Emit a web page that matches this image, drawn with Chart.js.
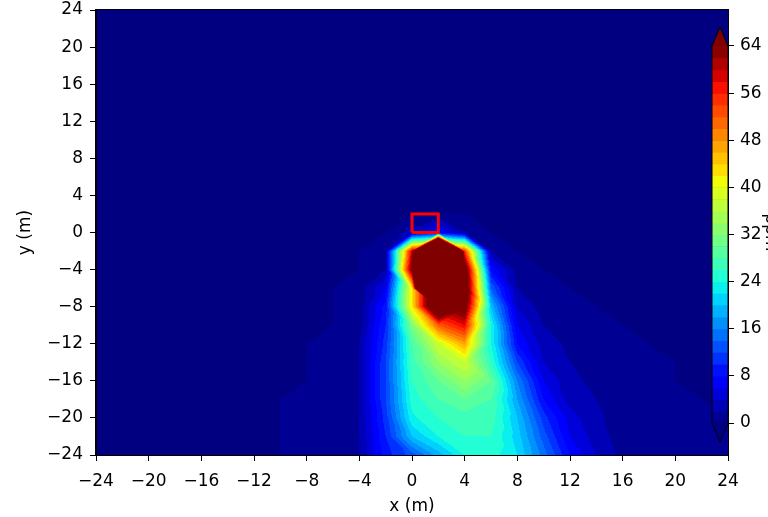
<!DOCTYPE html>
<html lang="fr">
<head>
    <meta charset="UTF-8">
    <title>Panache de concentration</title>
    <script src="https://cdn.jsdelivr.net/npm/chart.js@4.4.1/dist/chart.umd.min.js"></script>
</head>
<body style="margin: 0; background: #ffffff;">

<canvas id="plumeChart" width="768" height="517"></canvas>

<script>
    // Noeuds de la grille (m)
    const xNodes = [-12, -10, -8, -6, -4, -2, 0, 2, 4, 6, 8, 10, 12, 14, 16, 18, 20, 22, 24];
    const yNodes = [2, 0, -2, -4, -6, -8, -10, -12, -14, -16, -18, -20, -22, -24];

    const concRows = [
        [0, 0, 0, 0, 0,  0,  0,   0,  0,  0,  0,  0,   0,   0,   0, 0, 0, 0, 0],
        [0, 0, 0, 0, 0,  0,  3,   8,  2,  0,  0,  0,   0,   0,   0, 0, 0, 0, 0],
        [0, 0, 0, 0, 0,  2, 60, 195, 55,  2,  0,  0,   0,   0,   0, 0, 0, 0, 0],
        [0, 0, 0, 0, 0,  2, 66, 250, 70,  8,  1,  0,   0,   0,   0, 0, 0, 0, 0],
        [0, 0, 0, 0, 1,  6, 42, 200, 72, 14,  2,  1,   0,   0,   0, 0, 0, 0, 0],
        [0, 0, 0, 0, 1,  9, 42,  80, 68, 20,  4,  1,   1,   0,   0, 0, 0, 0, 0],
        [0, 0, 0, 0, 1, 10, 32,  52, 58, 24,  6,  2,   1,   1,   0, 0, 0, 0, 0],
        [0, 0, 0, 1, 2, 11, 28,  38, 47, 24,  8,  3, 1.5,   1,   1, 0, 0, 0, 0],
        [0, 0, 0, 1, 2, 12, 27,  34, 38, 26, 12,  4,   2,   1,   1, 1, 0, 0, 0],
        [0, 0, 0, 1, 2, 12, 26,  30, 34, 30, 16,  6, 2.5, 1.5,   1, 1, 0, 0, 0],
        [0, 0, 1, 1, 2, 12, 25,  28, 30, 28, 18,  8,   3,   2,   1, 1, 1, 0, 0],
        [0, 0, 1, 1, 2, 11, 23.5, 26, 27, 27, 20, 11,  5, 2.5,   1, 1, 1, 1, 0],
        [0, 0, 1, 1, 2, 10, 20,  24, 26, 26, 21, 13,   6,   3,   1, 1, 1, 1, 1],
        [0, 0, 1, 1, 2,  9, 13,  19, 24, 25, 22, 15,   8,   4, 1.5, 1, 1, 1, 1]
    ];

    // Niveaux des contours et graduations
    const levels = [0, 2, 4, 6, 8, 10, 12, 14, 16, 18, 20, 22, 24, 26, 28, 30, 32,
                    34, 36, 38, 40, 42, 44, 46, 48, 50, 52, 54, 56, 58, 60, 62, 64];
    const xTicks = [-24, -20, -16, -12, -8, -4, 0, 4, 8, 12, 16, 20, 24];
    const yTicks = [-24, -20, -16, -12, -8, -4, 0, 4, 8, 12, 16, 20, 24];
    const cbTicks = [0, 8, 16, 24, 32, 40, 48, 56, 64];

    // Position de la source (rectangle rouge)
    const sourceX = [0, 2, 2, 0, 0];
    const sourceY = [0, 0, 2, 2, 0];

    // Palette "jet"
    const jetR = [[0, 0], [0.35, 0], [0.66, 1], [0.89, 1], [1, 0.5]];
    const jetG = [[0, 0], [0.125, 0], [0.375, 1], [0.64, 1], [0.91, 0], [1, 0]];
    const jetB = [[0, 0.5], [0.11, 1], [0.34, 1], [0.65, 0], [1, 0]];

    function segment(pts, t) {
        for (let i = 1; i < pts.length; i++) {
            if (t <= pts[i][0]) {
                const f = (t - pts[i - 1][0]) / (pts[i][0] - pts[i - 1][0]);
                return pts[i - 1][1] + f * (pts[i][1] - pts[i - 1][1]);
            }
        }
        return pts[pts.length - 1][1];
    }

    function jet(t) {
        const idx = Math.min(255, Math.max(0, Math.floor(t * 256)));
        const u = idx / 255;
        return [segment(jetR, u), segment(jetG, u), segment(jetB, u)].map(c => Math.round(c * 255));
    }

    const vmin = levels[0];
    const vmax = levels[levels.length - 1];
    const bandColors = [];
    for (let k = 0; k < levels.length - 1; k++) {
        bandColors.push(jet(((levels[k] + levels[k + 1]) / 2 - vmin) / (vmax - vmin)));
    }
    const underColor = jet(0);
    const overColor = jet(1);

    function colorFor(v) {
        if (v <= vmin) return underColor;
        if (v > vmax) return overColor;
        for (let k = 1; k < levels.length; k++) {
            if (v <= levels[k]) return bandColors[k - 1];
        }
        return overColor;
    }

    // Valeur en un point : interpolation lineaire sur les triangles de chaque maille
    function valueAt(x, y) {
        if (x < xNodes[0] || x > xNodes[xNodes.length - 1]) return 0;
        if (y > yNodes[0] || y < yNodes[yNodes.length - 1]) return 0;
        let i = 0;
        while (i < xNodes.length - 2 && x > xNodes[i + 1]) i++;
        let j = 0;
        while (j < yNodes.length - 2 && y < yNodes[j + 1]) j++;
        const u = (x - xNodes[i]) / (xNodes[i + 1] - xNodes[i]);
        const w = (yNodes[j] - y) / (yNodes[j] - yNodes[j + 1]);
        const a = concRows[j][i], b = concRows[j][i + 1];
        const c = concRows[j + 1][i], d = concRows[j + 1][i + 1];
        if (Math.abs(a - d) <= Math.abs(b - c)) {
            if (u >= w) return a + (b - a) * u + (d - b) * w;
            return a + (c - a) * w + (d - c) * u;
        }
        if (u + w <= 1) return a + (b - a) * u + (c - a) * w;
        return d + (c - d) * (1 - u) + (b - d) * (1 - w);
    }

    const fmt = v => (v < 0 ? '\u2212' + (-v) : String(v));

    const contourPlugin = {
        id: 'contour',
        beforeDraw(chart) {
            const ctx = chart.ctx;
            const a = chart.chartArea;
            const sx = chart.scales.x, sy = chart.scales.y, cb = chart.scales.cb;
            const w = Math.round(a.right - a.left), h = Math.round(a.bottom - a.top);

            // Carte des concentrations
            const img = ctx.createImageData(w, h);
            const xs = [], ys = [];
            for (let i = 0; i < w; i++) xs.push(sx.getValueForPixel(a.left + i + 0.5));
            for (let j = 0; j < h; j++) ys.push(sy.getValueForPixel(a.top + j + 0.5));
            for (let j = 0; j < h; j++) {
                for (let i = 0; i < w; i++) {
                    const col = colorFor(valueAt(xs[i], ys[j]));
                    const p = (j * w + i) * 4;
                    img.data[p] = col[0];
                    img.data[p + 1] = col[1];
                    img.data[p + 2] = col[2];
                    img.data[p + 3] = 255;
                }
            }
            const off = document.createElement('canvas');
            off.width = w;
            off.height = h;
            off.getContext('2d').putImageData(img, 0, 0);
            ctx.drawImage(off, a.left, a.top);

            // Barre de couleurs
            const right = a.right, left = a.right - 16, mid = (left + right) / 2;
            const ext = (vmax - vmin) * 0.05;
            for (let k = 0; k < levels.length - 1; k++) {
                const y1 = cb.getPixelForValue(levels[k]);
                const y2 = cb.getPixelForValue(levels[k + 1]);
                const col = bandColors[k];
                ctx.fillStyle = 'rgb(' + col.join(',') + ')';
                ctx.fillRect(left, y2, right - left, y1 - y2 + 0.5);
            }
            const yTop = cb.getPixelForValue(vmax), yTopTip = cb.getPixelForValue(vmax + ext);
            const yBot = cb.getPixelForValue(vmin), yBotTip = cb.getPixelForValue(vmin - ext);
            ctx.fillStyle = 'rgb(' + overColor.join(',') + ')';
            ctx.beginPath();
            ctx.moveTo(left, yTop + 0.5);
            ctx.lineTo(mid, yTopTip);
            ctx.lineTo(right, yTop + 0.5);
            ctx.closePath();
            ctx.fill();
            ctx.fillStyle = 'rgb(' + underColor.join(',') + ')';
            ctx.beginPath();
            ctx.moveTo(left, yBot - 0.5);
            ctx.lineTo(mid, yBotTip);
            ctx.lineTo(right, yBot - 0.5);
            ctx.closePath();
            ctx.fill();
            ctx.strokeStyle = '#000000';
            ctx.lineWidth = 1;
            ctx.beginPath();
            ctx.moveTo(left, yBot);
            ctx.lineTo(left, yTop);
            ctx.lineTo(mid, yTopTip);
            ctx.lineTo(right, yTop);
            ctx.lineTo(right, yBot);
            ctx.lineTo(mid, yBotTip);
            ctx.closePath();
            ctx.stroke();
        },
        afterDraw(chart) {
            const ctx = chart.ctx;
            const a = chart.chartArea;
            ctx.save();
            ctx.strokeStyle = '#000000';
            ctx.lineWidth = 1;
            ctx.strokeRect(a.left - 0.5, a.top - 0.5, a.right - a.left + 1, a.bottom - a.top + 1);
            // titre de la barre de couleurs (en partie hors du cadre)
            ctx.translate(770, (a.top + a.bottom) / 2);
            ctx.rotate(Math.PI / 2);
            ctx.fillStyle = '#000000';
            ctx.font = '17px "DejaVu Sans"';
            ctx.textAlign = 'center';
            ctx.textBaseline = 'middle';
            ctx.fillText('ppm', 0, 0);
            ctx.restore();
        }
    };

    Chart.defaults.font.family = '"DejaVu Sans", sans-serif';
    Chart.defaults.font.size = 17;
    Chart.defaults.color = '#000000';

    const tickGrid = { display: true, drawOnChartArea: false, tickLength: 6, color: '#000000' };

    // pas de marge automatique autour des axes
    const noPad = s => { s.paddingTop = 0; s.paddingBottom = 0; s.paddingLeft = 0; s.paddingRight = 0; };

    new Chart(document.getElementById('plumeChart'), {
        type: 'scatter',
        data: {
            datasets: [{
                data: sourceX.map((x, i) => ({ x: x, y: sourceY[i] })),
                showLine: true,
                borderColor: '#ff0000',
                borderWidth: 3,
                pointRadius: 0,
                fill: false
            }]
        },
        options: {
            responsive: false,
            animation: false,
            layout: { padding: { top: 10, left: 0, right: 0, bottom: 0 }, autoPadding: false },
            plugins: { legend: { display: false }, tooltip: { enabled: false } },
            scales: {
                x: {
                    type: 'linear', position: 'bottom', min: -24, max: 24,
                    afterBuildTicks: s => { s.ticks = xTicks.map(v => ({ value: v })); },
                    ticks: { callback: fmt, padding: 10, maxRotation: 0, autoSkip: false },
                    grid: tickGrid,
                    border: { display: true, color: '#000000', width: 1 },
                    title: { display: true, text: 'x (m)', padding: { top: 0, bottom: 0 } },
                    afterFit: s => { noPad(s); s.height = 62; }
                },
                y: {
                    type: 'linear', position: 'left', min: -24, max: 24,
                    afterBuildTicks: s => { s.ticks = yTicks.map(v => ({ value: v })); },
                    ticks: { callback: fmt, padding: 7, autoSkip: false },
                    grid: tickGrid,
                    border: { display: true, color: '#000000', width: 1 },
                    title: { display: true, text: 'y (m)', padding: { top: 15, bottom: 0 } },
                    afterFit: s => { noPad(s); s.width = 96; }
                },
                cb: {
                    type: 'linear', position: 'right', min: -5.43, max: 70.11,
                    afterBuildTicks: s => { s.ticks = cbTicks.map(v => ({ value: v })); },
                    ticks: { padding: 6, autoSkip: false },
                    grid: tickGrid,
                    border: { display: true, color: '#000000', width: 1 },
                    afterFit: s => { noPad(s); s.width = 40; }
                }
            }
        },
        plugins: [contourPlugin]
    });
</script>

</body>
</html>
